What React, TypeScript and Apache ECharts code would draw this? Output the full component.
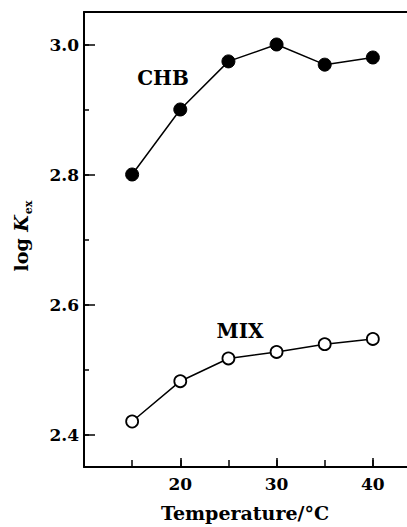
import React, { useEffect, useRef } from "react";
import * as echarts from "echarts";

const temperatures = [15, 20, 25, 30, 35, 40];
const chbValues = [2.8, 2.9, 2.974, 3.0, 2.969, 2.98];
const mixValues = [2.42, 2.482, 2.517, 2.527, 2.539, 2.547];
const yTickLabels = ["2.4", "2.6", "2.8", "3.0"];
const xTickLabels = ["20", "30", "40"];

const SERIF = "'DejaVu Serif', serif";

export default function App() {
  const ref = useRef<HTMLDivElement>(null);
  useEffect(() => {
    if (!ref.current) return;
    const chart = echarts.init(ref.current, undefined, { renderer: "svg" });
    const black = "#000";
    const tickFont = { fontFamily: SERIF, fontWeight: "bold" as const, fontSize: 17, color: black };
    const option: any = {
      animation: false,
      backgroundColor: "#fff",
      grid: { left: 84, top: 12, right: 0, bottom: 60, containLabel: false },
      xAxis: [
        {
          type: "value", min: 10, max: 45, interval: 10, position: "bottom",
          axisLine: { lineStyle: { color: black, width: 2 } },
          axisTick: { inside: true, length: 9, lineStyle: { color: black, width: 1.5 } },
          axisLabel: {
            ...tickFont, margin: 8,
            formatter: (v: number) => (xTickLabels.includes(String(v)) ? String(v) : ""),
          },
          splitLine: { show: false },
        },
        {
          type: "value", min: 10, max: 45, interval: 5, position: "bottom",
          axisLine: { show: false },
          axisTick: { inside: true, length: 7, lineStyle: { color: black, width: 1.5 } },
          axisLabel: { show: false },
          splitLine: { show: false },
        },
        {
          type: "value", min: 10, max: 45, interval: 5, position: "top",
          axisLine: { lineStyle: { color: black, width: 2 } },
          axisTick: { show: false },
          axisLabel: { show: false },
          splitLine: { show: false },
        },
      ],
      yAxis: [
        {
          type: "value", min: 2.35, max: 3.05, splitNumber: 3, position: "left",
          axisLine: { lineStyle: { color: black, width: 2 } },
          axisTick: { inside: true, length: 11, lineStyle: { color: black, width: 1.5 } },
          axisLabel: {
            ...tickFont, margin: 5,
            formatter: (v: number) => {
              const s = (Math.round(v * 100) / 100).toFixed(1);
              return Math.abs(v * 10 - Math.round(v * 10)) < 1e-6 && yTickLabels.includes(s) ? s : "";
            },
          },
          splitLine: { show: false },
        },
        {
          type: "value", min: 2.35, max: 3.05, splitNumber: 7, position: "left",
          axisLine: { show: false },
          axisTick: { inside: true, length: 5, lineStyle: { color: black, width: 1.5 } },
          axisLabel: { show: false },
          splitLine: { show: false },
        },
      ],
      series: [
        {
          name: "CHB", type: "line", xAxisIndex: 0, yAxisIndex: 0,
          data: temperatures.map((t, i) => [t, chbValues[i]]),
          symbol: "circle", symbolSize: 13,
          itemStyle: { color: black, borderColor: black, borderWidth: 1 },
          lineStyle: { color: black, width: 1.5 },
        },
        {
          name: "MIX", type: "line", xAxisIndex: 0, yAxisIndex: 0,
          data: temperatures.map((t, i) => [t, mixValues[i]]),
          symbol: "circle", symbolSize: 12,
          itemStyle: { color: "#fff", borderColor: black, borderWidth: 1.8 },
          lineStyle: { color: black, width: 1.5 },
        },
      ],
      graphic: [
        {
          type: "text", x: 163, y: 78,
          style: { text: "CHB", fill: black, font: `bold 20px ${SERIF}`, align: "center", verticalAlign: "middle" },
        },
        {
          type: "text", x: 240, y: 331,
          style: { text: "MIX", fill: black, font: `bold 20px ${SERIF}`, align: "center", verticalAlign: "middle" },
        },
        {
          type: "text", x: 245, y: 513,
          style: { text: "Temperature/°C", fill: black, font: `bold 19px ${SERIF}`, align: "center", verticalAlign: "middle" },
        },
        {
          type: "text", x: 21, y: 236, rotation: Math.PI / 2,
          style: {
            text: "{a|log }{b|K}{c|ex}",
            align: "center", verticalAlign: "middle", fill: black,
            rich: {
              a: { fontFamily: SERIF, fontWeight: "bold", fontSize: 19, color: black },
              b: { fontFamily: SERIF, fontWeight: "bold", fontStyle: "italic", fontSize: 19, color: black },
              c: { fontFamily: SERIF, fontWeight: "bold", fontSize: 11, color: black, verticalAlign: "bottom", padding: [0, 0, -3, 1] },
            },
          },
        },
      ],
    };
    chart.setOption(option);
    return () => chart.dispose();
  }, []);
  return (
    <div style={{ position: "fixed", left: 0, top: 0, width: 407, height: 527, overflow: "hidden", background: "#fff" }}>
      <div ref={ref} style={{ width: 424, height: 527 }} />
    </div>
  );
}
